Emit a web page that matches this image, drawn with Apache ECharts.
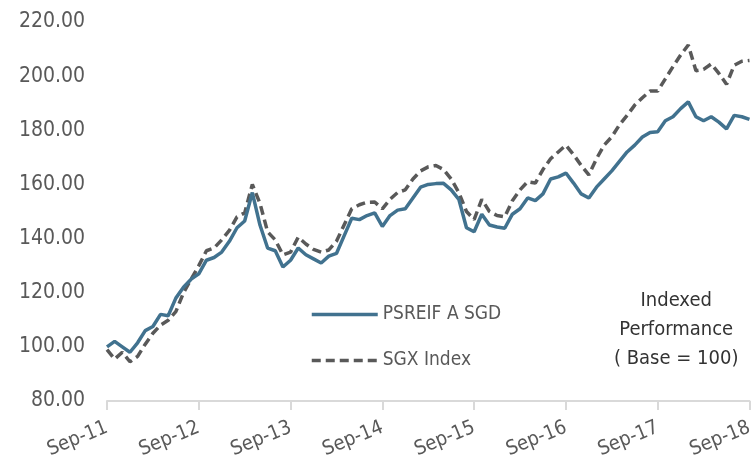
<!DOCTYPE html>
<html>
<head>
<meta charset="utf-8">
<script src="https://cdn.jsdelivr.net/npm/echarts@6/dist/echarts.min.js"></script>
<style>
  html, body { margin: 0; padding: 0; background: #fff; }
  #main { width: 756px; height: 466px; }
</style>
</head>
<body>
<div id="main"></div>
<script>
// monthly points, Sep-11 .. Sep-18
var monthNames = ['Jan','Feb','Mar','Apr','May','Jun','Jul','Aug','Sep','Oct','Nov','Dec'];
var months = [];
for (var y = 11; y <= 18; y++) {
  for (var m = 0; m < 12; m++) {
    if ((y === 11 && m < 8) || (y === 18 && m > 8)) continue;
    months.push(monthNames[m] + '-' + y);
  }
}

var psreif = [
  100, 102, 100, 98, 101.5, 106, 107.5, 112, 111.5, 118, 122, 125,
  127, 132, 133, 135, 139, 144, 146.5, 157, 145, 136.5, 135.5, 129.5,
  132, 136.5, 134, 132.5, 131, 133.5, 134.5, 141, 147.5, 147, 148.5, 149.5,
  144.5, 148.5, 150.5, 151, 155, 159, 160, 160.3, 160.4, 158, 154.5, 144,
  142.5, 149, 145, 144.3, 143.8, 149, 151, 155, 154, 156.5, 162, 162.8,
  164.2, 160.5, 156.5, 155, 159, 162, 165, 168.5, 172, 174.5, 177.5, 179.2,
  179.5, 183.5, 185, 188, 190.5, 185, 183.5, 185, 183, 180.5, 185.5, 185,
  184
];

var sgx = [
  99, 95.5, 98, 94.5, 96.5, 101, 105, 108, 109.8, 113, 120, 125,
  130, 135.5, 136.5, 139.5, 143, 148, 149.5, 160, 153, 142.5, 139.5, 134,
  135, 140.5, 138, 136, 135, 135.8, 139, 145, 151, 152.5, 153.4, 153.5,
  151, 154.5, 157, 158, 162, 165, 166.5, 167, 165.5, 162, 157, 150,
  147, 154.5, 150, 148.5, 148, 154, 158, 161, 160.5, 165.5, 169.5, 172,
  174.5, 171, 167, 163.5, 169.5, 174.5, 177.6, 182, 185.5, 189.3, 192, 194.5,
  194.5, 199, 203.5, 207.8, 211.5, 202, 202.5, 204.5, 201, 197, 204, 205.5,
  205.8
];

var font = "'DejaVu Sans Condensed', 'Liberation Sans', sans-serif";

var chart = echarts.init(document.getElementById('main'));
chart.setOption({
  animation: false,
  textStyle: { fontFamily: font },
  grid: { left: 107, right: 0, top: 22, bottom: 65 },
  legend: {
    orient: 'vertical',
    left: 305,
    top: 300,
    itemWidth: 66,
    itemHeight: 12,
    itemGap: 27,
    itemStyle: { opacity: 0 },
    lineStyle: { width: 3.5 },
    textStyle: { fontSize: 19, color: '#595959', fontFamily: font },
    data: ['PSREIF A SGD', 'SGX Index']
  },
  graphic: [{
    type: 'text',
    left: 614,
    top: 286,
    style: {
      text: 'Indexed\nPerformance\n( Base = 100)',
      fill: '#333',
      font: '20px ' + font,
      textAlign: 'center',
      lineHeight: 29
    }
  }],
  xAxis: {
    type: 'category',
    boundaryGap: false,
    data: months,
    axisLine: { lineStyle: { color: '#d9d9d9', width: 2 } },
    axisTick: { interval: 11, length: 9, lineStyle: { color: '#d9d9d9', width: 2 } },
    axisLabel: {
      interval: 11,
      rotate: 22,
      margin: 26,
      fontSize: 20,
      color: '#595959',
      formatter: function (v) { return v.replace(/^[A-Za-z]+/, 'Sep'); }
    },
    splitLine: { show: false }
  },
  yAxis: {
    type: 'value',
    min: 80,
    max: 220,
    interval: 20,
    axisLine: { show: false },
    axisTick: { show: false },
    splitLine: { show: false },
    axisLabel: {
      fontSize: 21,
      color: '#595959',
      margin: 22,
      formatter: function (v) { return v.toFixed(2); }
    }
  },
  series: [
    {
      name: 'PSREIF A SGD',
      type: 'line',
      data: psreif,
      symbol: 'none',
      showSymbol: false,
      lineStyle: { color: '#41728f', width: 3.5 },
      itemStyle: { color: '#41728f' },
      z: 3
    },
    {
      name: 'SGX Index',
      type: 'line',
      data: sgx,
      symbol: 'none',
      showSymbol: false,
      lineStyle: { color: '#595959', width: 3.5, type: [9, 5] },
      itemStyle: { color: '#595959' },
      z: 2
    }
  ]
});
</script>
</body>
</html>
